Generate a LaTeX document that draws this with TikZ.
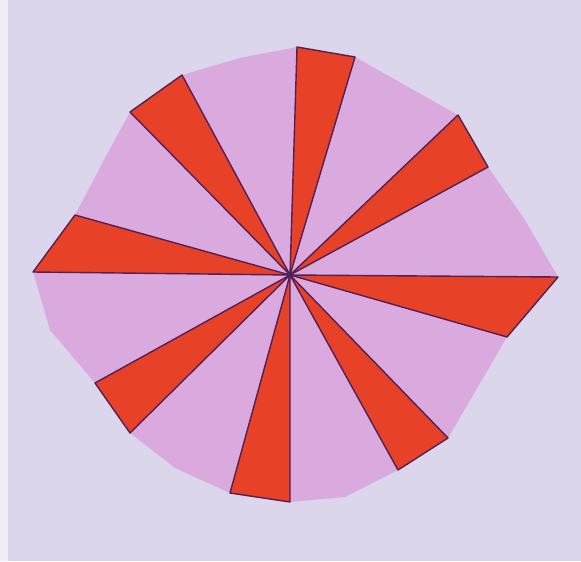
\documentclass[tikz,border=0pt]{standalone}
\usetikzlibrary{calc}
\definecolor{paperlilac}{RGB}{219,214,235}
\definecolor{cardpink}{RGB}{218,170,222}
\definecolor{crayonred}{RGB}{231,66,40}
\definecolor{pencilpurple}{RGB}{85,30,85}

\begin{document}
\begin{tikzpicture}[x=0.5pt,y=-0.5pt]
        % Paper background
        \useasboundingbox (0,0) rectangle (581,561);
        \fill[paperlilac] (0,0) rectangle (581,561);
        \fill[white!55!paperlilac] (0,0) rectangle (8,561);
        \coordinate (hub) at (290,275);

        % Pink card (sixteen tips plus a few bulges)
        \fill[cardpink] (297,47) -- (355,57) -- (458,115) -- (488,167) -- (525,220)
            -- (558,277) -- (507,337) -- (448,438) -- (398,470) -- (345,497)
            -- (290,502) -- (230,493) -- (175,468) -- (130,433) -- (95,383)
            -- (50,330) -- (33,272) -- (75,215) -- (104,160) -- (130,112)
            -- (182,75) -- (240,58) -- cycle;

        % Red blades: two outer tips each
        \foreach \ax/\ay/\bx/\by in {297/47/355/57, 458/115/488/167,
                558/277/507/337, 448/438/398/470, 290/502/230/493,
                130/433/95/383, 33/272/75/215, 130/112/182/75}
            \filldraw[fill=crayonred, draw=pencilpurple, line width=0.7pt, line join=round]
                (hub) -- (\ax,\ay) -- (\bx,\by) -- cycle;

        % Centre pin
        \fill[pencilpurple] (hub) circle (3.5);
    \end{tikzpicture}
\end{document}
